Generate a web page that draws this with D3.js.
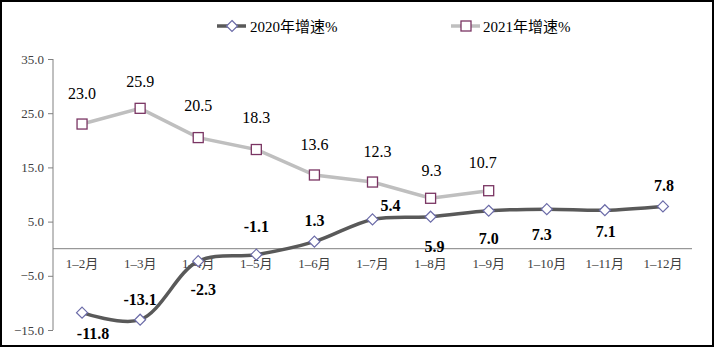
<!DOCTYPE html>
<html>
<head>
<meta charset="utf-8">
<script src="https://cdn.jsdelivr.net/npm/d3@7"></script>
<style>
  html, body { margin: 0; padding: 0; background: #fff; }
  svg { display: block; }
</style>
</head>
<body>
<svg id="chart" width="719" height="348"></svg>
<script>
const categories = ["1\u20132月","1\u20133月","1\u20134月","1\u20135月","1\u20136月","1\u20137月","1\u20138月","1\u20139月","1\u201310月","1\u201311月","1\u201312月"];
const series2020 = [-11.8, -13.1, -2.3, -1.1, 1.3, 5.4, 5.9, 7.0, 7.3, 7.1, 7.8];
const series2021 = [23.0, 25.9, 20.5, 18.3, 13.6, 12.3, 9.3, 10.7];
const yTicks = [-15, -5, 5, 15, 25, 35];
const seriesNames = ["2020年增速%", "2021年增速%"];
// label offsets (dx, dy from point), styling only
const offsets2020 = [[11,21],[0,-20],[5,28],[0,-28],[0,-21],[18,-14],[4,30],[0,28],[-5,25],[1,21],[1,-21]];
const offsets2021 = [[0,-31],[0,-27],[0,-32],[0,-32],[0,-30],[5,-31],[1,-28],[-6,-28]];

const FONT = "'Liberation Serif', 'Times New Roman', 'Noto Sans CJK SC', serif";
const svg = d3.select("#chart");
// outer border
svg.append("rect").attr("x",1).attr("y",1).attr("width",712).attr("height",345)
  .attr("fill","none").attr("stroke","#000").attr("stroke-width",2);

const x = d3.scaleBand().domain(categories).range([53, 692]).padding(0);
const y = d3.scaleLinear().domain([-15, 35]).range([330, 59]);
const cx = c => x(c) + x.bandwidth()/2;

// y axis
const yAxis = svg.append("g").attr("transform","translate(53,0)")
  .call(d3.axisLeft(y).tickValues(yTicks).tickSize(5).tickFormat(d3.format(".1f")).tickPadding(4));
yAxis.attr("font-family", null);
yAxis.select(".domain").attr("stroke","#808080").attr("d","M0,59V330");
yAxis.selectAll(".tick line").attr("stroke","#808080");
yAxis.selectAll(".tick text").attr("fill","#404040").style("font-size","13px")
  .style("font-family", FONT).text(d => d3.format(".1f")(d).replace("-","\u2212"));

// x axis at zero
const xAxis = svg.append("g").attr("transform",`translate(0,${y(0)})`)
  .call(d3.axisBottom(x).tickSize(0).tickPadding(10));
xAxis.attr("font-family", null);
xAxis.select(".domain").attr("stroke","#808080").attr("d","M53,0H692");
xAxis.selectAll(".tick text").attr("fill","#404040").style("font-size","13px").style("font-family", FONT);

// 2021 line
const line2021 = d3.line().x((d,i)=>cx(categories[i])).y(d=>y(d));
svg.append("path").datum(series2021).attr("d", line2021)
  .attr("fill","none").attr("stroke","#bfbfbf").attr("stroke-width",3.5);

// 2020 line (smoothed)
const line2020 = d3.line().x((d,i)=>cx(categories[i])).y(d=>y(d)).curve(d3.curveCatmullRom.alpha(0.5));
svg.append("path").datum(series2020).attr("d", line2020)
  .attr("fill","none").attr("stroke","#595959").attr("stroke-width",3.5);

// markers 2021 squares
svg.selectAll(".sq").data(series2021).enter().append("rect")
  .attr("x",(d,i)=>cx(categories[i])-5).attr("y",d=>y(d)-5)
  .attr("width",10).attr("height",10)
  .attr("fill","#fff").attr("stroke","#7a3563").attr("stroke-width",1.3);

// markers 2020 diamonds
const diamond = (px,py) => `M${px},${py-5.5}L${px+5.5},${py}L${px},${py+5.5}L${px-5.5},${py}Z`;
svg.selectAll(".dm").data(series2020).enter().append("path")
  .attr("d",(d,i)=>diamond(cx(categories[i]), y(d)))
  .attr("fill","#fff").attr("stroke","#6b6ba8").attr("stroke-width",1.2);

// labels 2021
svg.selectAll(".l21").data(series2021).enter().append("text")
  .attr("x",(d,i)=>cx(categories[i])+offsets2021[i][0])
  .attr("y",(d,i)=>y(d)+offsets2021[i][1])
  .attr("text-anchor","middle").attr("dominant-baseline","central")
  .style("font-family", FONT).style("font-size","16px").attr("fill","#000")
  .text(d=>d.toFixed(1));

// labels 2020
svg.selectAll(".l20").data(series2020).enter().append("text")
  .attr("x",(d,i)=>cx(categories[i])+offsets2020[i][0])
  .attr("y",(d,i)=>y(d)+offsets2020[i][1])
  .attr("text-anchor","middle").attr("dominant-baseline","central")
  .style("font-family", FONT).style("font-size","16px").attr("font-weight","bold").attr("fill","#000")
  .text(d=>d.toFixed(1));

// legend
const leg = svg.append("g");
leg.append("line").attr("x1",217).attr("x2",246).attr("y1",26).attr("y2",26)
  .attr("stroke","#595959").attr("stroke-width",3.5);
leg.append("path").attr("d",diamond(232,26)).attr("fill","#fff").attr("stroke","#6b6ba8").attr("stroke-width",1.2);
leg.append("text").attr("x",250).attr("y",27).attr("dominant-baseline","central")
  .style("font-family", FONT).style("font-size","15px").text(seriesNames[0]);
leg.append("line").attr("x1",451).attr("x2",480).attr("y1",26).attr("y2",26)
  .attr("stroke","#bfbfbf").attr("stroke-width",3.5);
leg.append("rect").attr("x",461).attr("y",21).attr("width",10).attr("height",10)
  .attr("fill","#fff").attr("stroke","#7a3563").attr("stroke-width",1.3);
leg.append("text").attr("x",483).attr("y",27).attr("dominant-baseline","central")
  .style("font-family", FONT).style("font-size","15px").text(seriesNames[1]);
</script>
</body>
</html>
